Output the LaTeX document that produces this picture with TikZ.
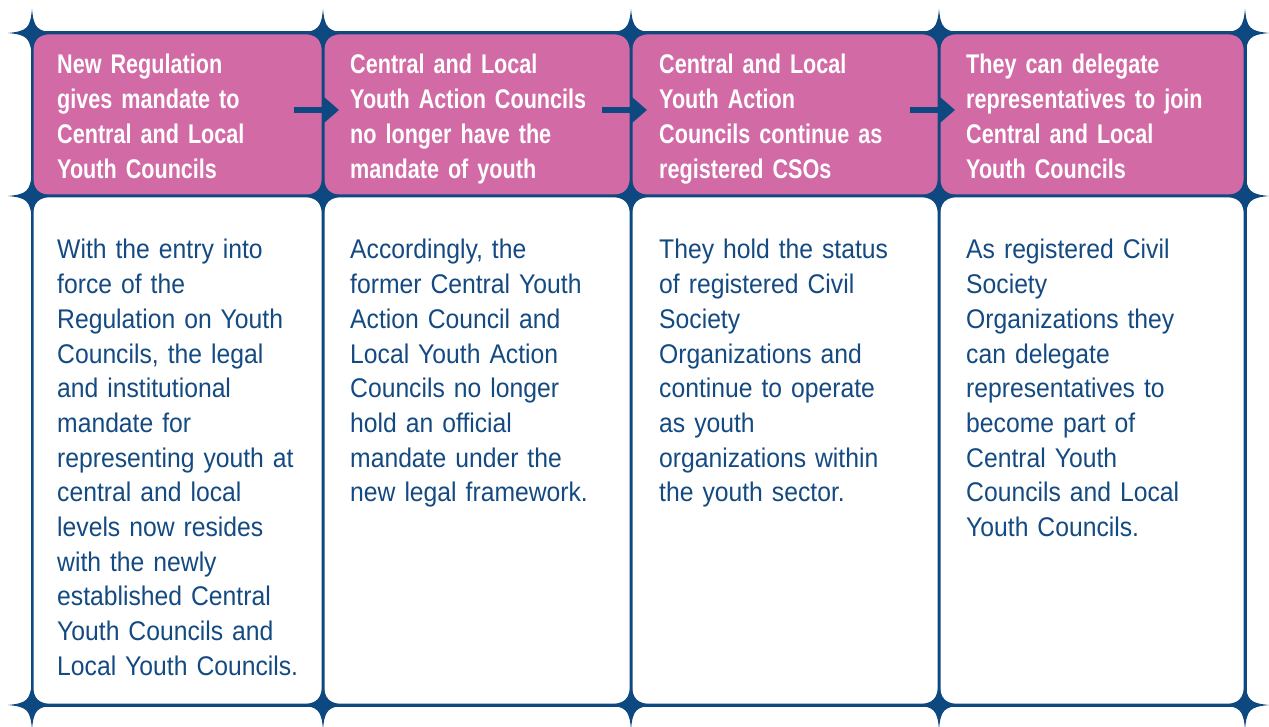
\documentclass[tikz,border=0pt]{standalone}
\usepackage{fontspec}
\setmainfont{Liberation Sans}
\newfontfamily\headfont[FakeStretch=0.8]{Liberation Sans}
\newfontfamily\bodyfont[FakeStretch=0.915]{Liberation Sans}
\usetikzlibrary{arrows.meta}
\definecolor{navy}{RGB}{14,72,128}
\definecolor{navytext}{RGB}{20,74,130}
\definecolor{pinkc}{RGB}{210,106,166}
\tikzset{
  sparkle/.pic={\fill[navy] (24,0) .. controls (4.8,1.9) and (1.9,4.8) .. (0,24)
     .. controls (-1.9,4.8) and (-4.8,1.9) .. (-24,0)
     .. controls (-4.8,-1.9) and (-1.9,-4.8) .. (0,-24)
     .. controls (1.9,-4.8) and (4.8,-1.9) .. cycle;},
  headtext/.style={anchor=base west, inner sep=0pt, text width=275pt, align=left,
     text=white, font=\headfont\bfseries\fontsize{27}{34.7}\selectfont},
  bodytext/.style={anchor=base west, inner sep=0pt, text width=275pt, align=left,
     text=navytext, font=\bodyfont\fontsize{27}{34.67}\selectfont},
  flowarrow/.style={navy, line width=5.5pt, -{Triangle[length=15pt,width=25pt]}},
  headcell/.style={fill=pinkc, rounded corners=10pt},
  bodycell/.style={fill=white, rounded corners=10pt}
}
\begin{document}
\begin{tikzpicture}[x=1pt,y=-1pt]
\useasboundingbox (0,0) rectangle (1269,727);
% grid background (lines)
\fill[navy] (30.5,31.5) rectangle (1246.5,706.5);
% cells
\foreach \xa/\xb in {32/323,323/631,631/939,939/1245}{
  \fill[headcell] (\xa+1.5,34.5) rectangle (\xb-1.5,194.5);
  \fill[bodycell] (\xa+1.5,197.5) rectangle (\xb-1.5,703.5);
}
% stars
\foreach \xx in {32,323,631,939,1245}{
  \foreach \yy in {33,196,705}{
    \pic at (\xx,\yy) {sparkle};
  }
}
% header texts
\node[headtext] (h1) at (57,74) {New Regulation\\gives mandate to\\Central and Local\\Youth Councils};
\node[headtext] (h2) at (350,74) {Central and Local\\Youth Action Councils\\no longer have the\\mandate of youth};
\node[headtext] (h3) at (659,74) {Central and Local\\Youth Action\\Councils continue as\\registered CSOs};
\node[headtext] (h4) at (966,74) {They can delegate\\representatives to join\\Central and Local\\Youth Councils};
% body texts
\node[bodytext] (b1) at (57,259) {With the entry into\\force of the\\Regulation on Youth\\Councils, the legal\\and institutional\\mandate for\\representing youth at\\central and local\\levels now resides\\with the newly\\established Central\\Youth Councils and\\Local Youth Councils.};
\node[bodytext] (b2) at (350,259) {Accordingly, the\\former Central Youth\\Action Council and\\Local Youth Action\\Councils no longer\\hold an official\\mandate under the\\new legal framework.};
\node[bodytext] (b3) at (659,259) {They hold the status\\of registered Civil\\Society\\Organizations and\\continue to operate\\as youth\\organizations within\\the youth sector.};
\node[bodytext] (b4) at (966,259) {As registered Civil\\Society\\Organizations they\\can delegate\\representatives to\\become part of\\Central Youth\\Councils and Local\\Youth Councils.};
% arrows
\coordinate (a1s) at (294,110); \coordinate (a1e) at (339,110);
\coordinate (a2s) at (602,110); \coordinate (a2e) at (647,110);
\coordinate (a3s) at (910,110); \coordinate (a3e) at (955,110);
\draw[flowarrow] (a1s) -- (a1e);
\draw[flowarrow] (a2s) -- (a2e);
\draw[flowarrow] (a3s) -- (a3e);
\end{tikzpicture}
\end{document}
